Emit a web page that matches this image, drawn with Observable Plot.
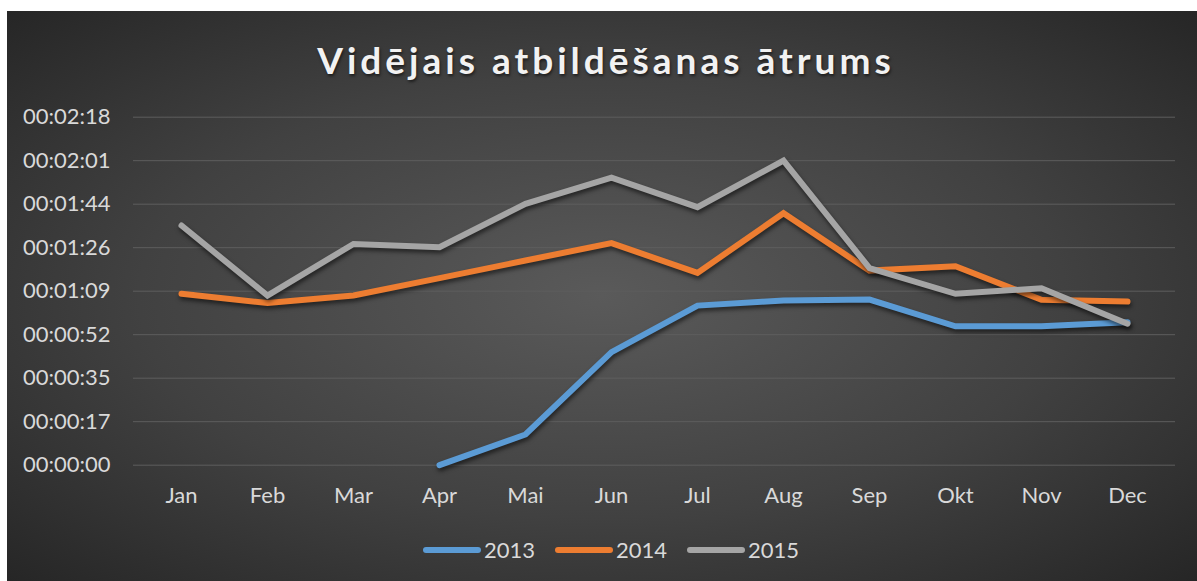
<!DOCTYPE html>
<html>
<head>
<meta charset="utf-8">
<script src="https://cdn.jsdelivr.net/npm/d3@7"></script>
<script src="https://cdn.jsdelivr.net/npm/@observablehq/plot@0.6"></script>
<style>
  html, body { margin: 0; padding: 0; background: #ffffff; }
  #frame {
    position: absolute; left: 7px; top: 11px; width: 1190px; height: 570px;
    background: radial-gradient(ellipse farthest-corner at 50% 50%, #5a5a5a 0%, #414141 55%, #262626 100%);
    font-family: Lato, "Open Sans", sans-serif;
    display: flex; flex-direction: column; overflow: hidden;
  }
  #title {
    height: 80px; line-height: 1; text-align: center; color: #f2f2f2;
    font-weight: 700; font-size: 37px; letter-spacing: 4px;
    padding-top: 30px; padding-left: 8px; box-sizing: border-box;
    text-shadow: 1px 2px 3px rgba(0,0,0,0.55);
  }
  #legend {
    height: 45px; display: flex; justify-content: center; align-items: center;
    color: #d9d9d9; font-size: 22px; padding-bottom: 18px; padding-left: 18px; box-sizing: border-box;
  }
  .item { display: flex; align-items: center; margin: 0 10px; }
  .swatch { width: 58px; height: 6px; border-radius: 3px; margin-right: 3px; }
</style>
</head>
<body>
<div id="frame">
  <div id="title">Vidējais atbildēšanas ātrums</div>
  <div id="chart"></div>
  <div id="legend"></div>
</div>
<script>
// Months (categories)
const months = ["Jan","Feb","Mar","Apr","Mai","Jun","Jul","Aug","Sep","Okt","Nov","Dec"];
// Series: average answer time in seconds (null = no data)
const years = ["2013","2014","2015"];
const s2013 = [null, null, null, 0, 12.2, 44.9, 63.4, 65.4, 65.8, 55.2, 55.2, 56.8];
const s2014 = [68.1, 64.4, 67.4, 74.3, 81.3, 88.2, 76.4, 100.1, 77.3, 79.0, 65.7, 65.0];
const s2015 = [95.2, 67.4, 87.9, 86.6, 103.8, 114.2, 102.5, 121.0, 78.3, 68.1, 70.3, 56.2];
// Y tick values (seconds) as shown by the axis: 0.0002 day steps
const yTicks = [0, 17.28, 34.56, 51.84, 69.12, 86.4, 103.68, 120.96, 138.24];
const colors = ["#5b9bd5", "#ed7d31", "#a5a5a5"];

const seriesValues = [s2013, s2014, s2015];
const data = [];
years.forEach((y, i) => {
  months.forEach((m, j) => {
    data.push({year: y, month: m, value: seriesValues[i][j]});
  });
});

function fmt(s) {
  const t = Math.round(s);
  const h = Math.floor(t / 3600), mi = Math.floor((t % 3600) / 60), se = t % 60;
  const p = v => String(v).padStart(2, "0");
  return `${p(h)}:${p(mi)}:${p(se)}`;
}

const chart = Plot.plot({
  width: 1190,
  height: 445,
  marginLeft: 126,
  marginRight: 22,
  marginTop: 25.7,
  marginBottom: 71.3,
  style: {background: "transparent", color: "#d9d9d9", fontFamily: "Lato, 'Open Sans', sans-serif", fontSize: "22px", overflow: "visible"},
  x: {type: "point", domain: months, padding: 0.5, label: null},
  y: {domain: [0, 138.24], label: null},
  color: {domain: years, range: colors},
  marks: [
    Plot.gridY(yTicks, {stroke: "#5e5e5e", strokeOpacity: 1, strokeWidth: 1}),
    Plot.axisY(yTicks, {tickSize: 0, tickPadding: 23, tickFormat: fmt, fill: "#d9d9d9", fontSize: 22, label: null}),
    Plot.axisX({tickSize: 0, tickPadding: 22, fill: "#d9d9d9", fontSize: 22, label: null}),
    Plot.line(data, {x: "month", y: "value", z: "year", stroke: "year", strokeWidth: 6,
      strokeLinecap: "round", strokeLinejoin: "miter", strokeMiterlimit: 4})
  ]
});
document.getElementById("chart").appendChild(chart);
chart.querySelectorAll('g[aria-label="line"] path').forEach(p => {
  p.style.filter = "drop-shadow(1px 3px 2px rgba(0,0,0,0.55))";
});

const legend = document.getElementById("legend");
years.forEach((y, i) => {
  const it = document.createElement("div");
  it.className = "item";
  const sw = document.createElement("div");
  sw.className = "swatch";
  sw.style.background = colors[i];
  const tx = document.createElement("span");
  tx.textContent = y;
  it.appendChild(sw); it.appendChild(tx);
  legend.appendChild(it);
});
</script>
</body>
</html>
